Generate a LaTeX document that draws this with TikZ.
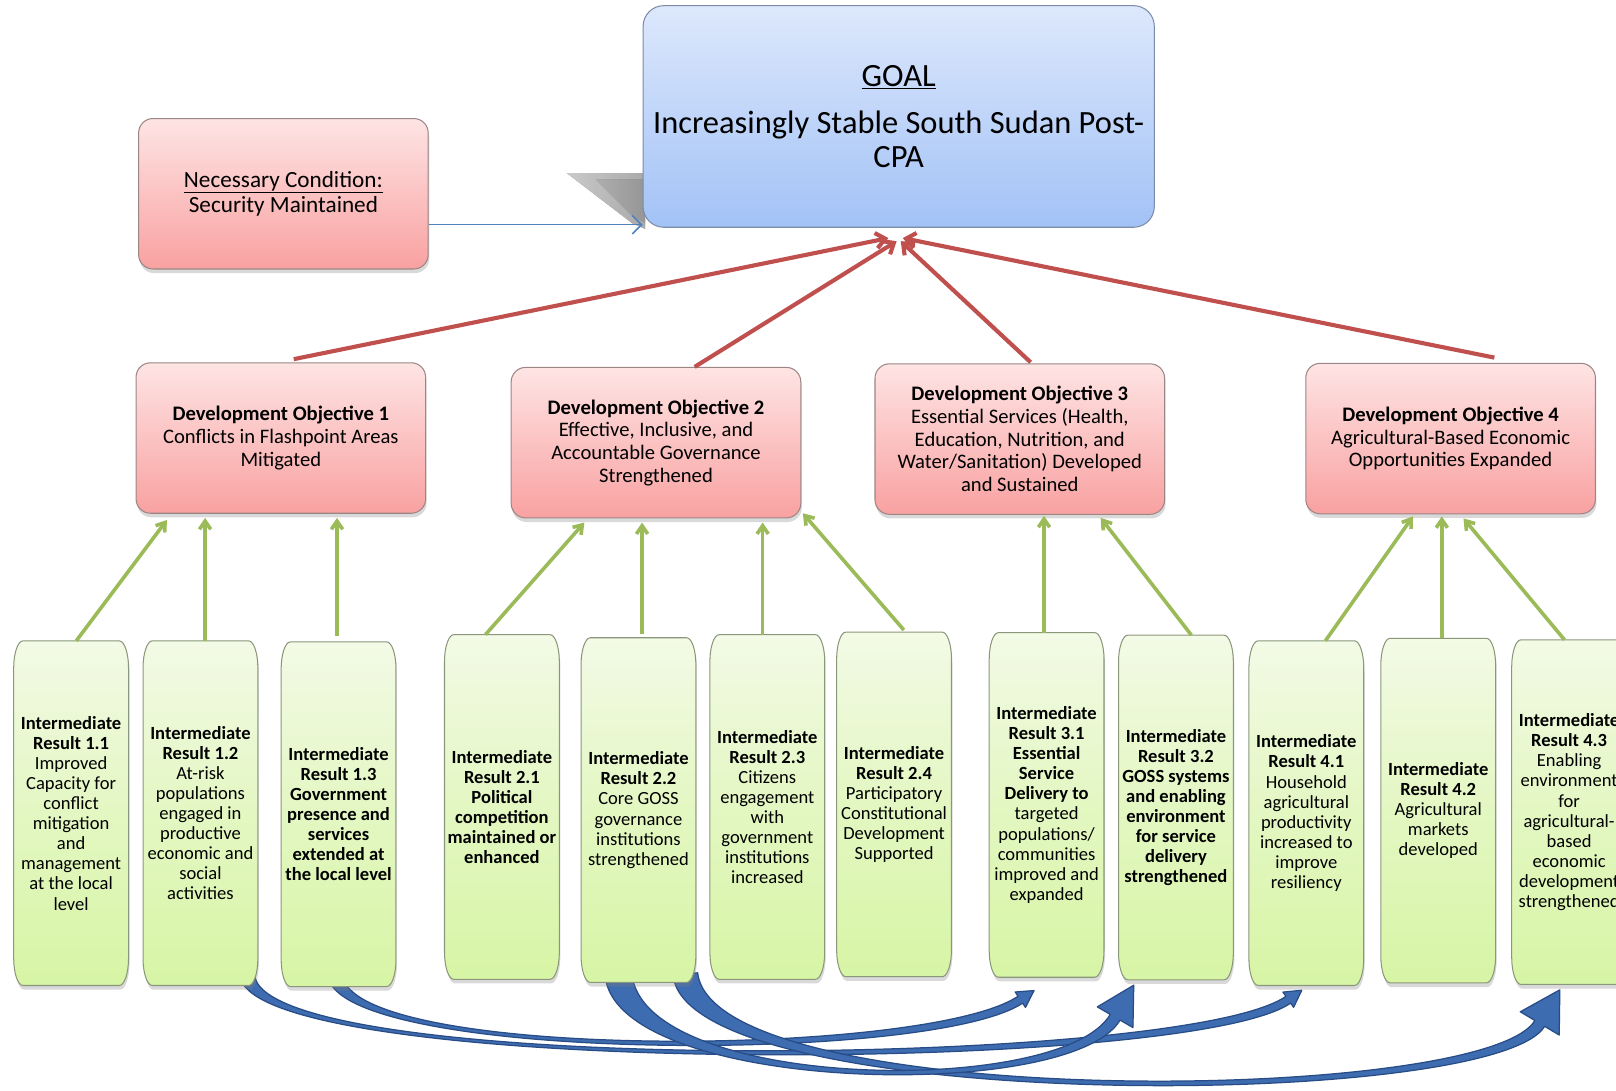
\documentclass[tikz,border=0pt]{standalone}
\usepackage{fontspec}
\setmainfont{Carlito}
\usetikzlibrary{calc,shadows,arrows.meta}
\pgfdeclarelayer{bg}
\pgfsetlayers{bg,main}
\definecolor{goaltop}{HTML}{DDE8FC}
\definecolor{goalbot}{HTML}{A2C2F6}
\definecolor{goalline}{HTML}{7B8BA8}
\definecolor{pinktop}{HTML}{FEE4E4}
\definecolor{pinkbot}{HTML}{F9A1A1}
\definecolor{pinkline}{HTML}{9C8585}
\definecolor{irtop}{HTML}{F3FAE6}
\definecolor{irmid}{HTML}{E3F7C2}
\definecolor{irbot}{HTML}{D7F5A5}
\definecolor{irline}{HTML}{8A977A}
\definecolor{redln}{HTML}{C0504D}
\definecolor{grnln}{HTML}{9BBB59}
\definecolor{bluln}{HTML}{4F81BD}
\definecolor{arrfill}{HTML}{3E6CB0}
\definecolor{arrline}{HTML}{284C85}
\newcommand{\bluearrow}[8]{%
  \path[bluearr]
   ($(#1)!#5!90:(#2)$)
   .. controls ($(#2)!#5!-90:(#1)$) and ($(#3)!#6!90:(#4)$) .. ($(#4)!#6!-90:(#3)$)
   -- ($(#4)!#8!-90:(#3)$) -- ($(#4)!-#7!(#3)$) -- ($(#4)!#8!90:(#3)$)
   -- ($(#4)!#6!90:(#3)$)
   .. controls ($(#3)!#6!-90:(#4)$) and ($(#2)!#5!90:(#1)$) .. ($(#1)!#5!-90:(#2)$)
   -- cycle;}
\tikzset{
  goalbox/.style={draw=goalline, line width=1pt, rounded corners=20pt, top color=goaltop, bottom color=goalbot,
    minimum width=496pt, minimum height=215pt, align=center, inner sep=0pt, font=\fontsize{31.5}{33}\selectfont},
  pinkbox/.style={draw=pinkline, line width=1pt, rounded corners=14pt, top color=pinktop, bottom color=pinkbot,
    minimum width=281pt, minimum height=146pt, align=center, inner sep=0pt,
    drop shadow={shadow xshift=1pt, shadow yshift=-4pt, opacity=0.3}},
  dotext/.style={font=\fontsize{20}{22}\selectfont},
  nctext/.style={font=\fontsize{22.5}{24.5}\selectfont},
  irtext/.style={minimum width=111pt, minimum height=334pt, inner sep=0pt, align=center,
    font=\fontsize{18}{19.5}\selectfont},
  irshape/.style={draw=irline, line width=1pt, top color=irtop, bottom color=irbot, middle color=irmid,
    drop shadow={shadow xshift=1pt, shadow yshift=-4pt, opacity=0.3}},
  redarr/.style={draw=redln, line width=4pt, -{Straight Barb[length=9pt,width=15pt]}},
  grnarr/.style={draw=grnln, line width=3.5pt, -{Straight Barb[length=8pt,width=11pt]}},
  bluthin/.style={draw=bluln, line width=1.5pt, -{Straight Barb[length=9pt,width=18pt]}},
  bluearr/.style={fill=arrfill, draw=arrline, line width=1.2pt, line join=round},
}
\begin{document}
\begin{tikzpicture}[x=1pt,y=-1pt]
\useasboundingbox (0,0) rectangle (1568,1058);

% top level
\node[goalbox] (goal) at (872,113) {\underline{GOAL}\\[12pt]Increasingly Stable South Sudan Post-\\CPA};
\node[pinkbox, nctext] (nc) at (275,188) {\underline{Necessary Condition:}\\Security Maintained};

% development objectives
\node[pinkbox, dotext] (do1) at (272.5,425) {\textbf{Development Objective 1}\\Conflicts in Flashpoint Areas\\Mitigated};
\node[pinkbox, dotext] (do2) at (636.5,429.5) {\textbf{Development Objective 2}\\Effective, Inclusive, and\\Accountable Governance\\Strengthened};
\node[pinkbox, dotext] (do3) at (989.5,426) {\textbf{Development Objective 3}\\Essential Services (Health,\\Education, Nutrition, and\\Water/Sanitation) Developed\\and Sustained};
\node[pinkbox, dotext] (do4) at (1407.5,425.5) {\textbf{Development Objective 4}\\Agricultural-Based Economic\\Opportunities Expanded};

% intermediate results
\node[irtext] (ir11) at (69,789) {\textbf{Intermediate}\\\textbf{Result 1.1}\\Improved\\Capacity for\\conflict\\mitigation\\and\\management\\at the local\\level};
\node[irtext] (ir12) at (194.5,789) {\textbf{Intermediate}\\\textbf{Result 1.2}\\At-risk\\populations\\engaged in\\productive\\economic and\\social\\activities};
\node[irtext] (ir13) at (328.5,790) {\textbf{Intermediate}\\\textbf{Result 1.3}\\\textbf{Government}\\\textbf{presence and}\\\textbf{services}\\\textbf{extended at}\\\textbf{the local level}};
\node[irtext] (ir21) at (487,783) {\textbf{Intermediate}\\\textbf{Result 2.1}\\\textbf{Political}\\\textbf{competition}\\\textbf{maintained or}\\\textbf{enhanced}};
\node[irtext] (ir22) at (619.5,786) {\textbf{Intermediate}\\\textbf{Result 2.2}\\Core GOSS\\governance\\institutions\\strengthened};
\node[irtext] (ir23) at (744.5,783) {\textbf{Intermediate}\\\textbf{Result 2.3}\\Citizens\\engagement\\with\\government\\institutions\\increased};
\node[irtext] (ir24) at (867.5,780.5) {\textbf{Intermediate}\\\textbf{Result 2.4}\\Participatory\\Constitutional\\Development\\Supported};
\node[irtext] (ir31) at (1015.5,781) {\textbf{Intermediate}\\\textbf{Result 3.1}\\\textbf{Essential}\\\textbf{Service}\\\textbf{Delivery to}\\targeted\\populations/\\communities\\improved and\\expanded};
\node[irtext] (ir32) at (1141,783.5) {\textbf{Intermediate}\\\textbf{Result 3.2}\\\textbf{GOSS systems}\\\textbf{and enabling}\\\textbf{environment}\\\textbf{for service}\\\textbf{delivery}\\\textbf{strengthened}};
\node[irtext] (ir41) at (1267.5,789) {\textbf{Intermediate}\\\textbf{Result 4.1}\\Household\\agricultural\\productivity\\increased to\\improve\\resiliency};
\node[irtext] (ir42) at (1395.5,786.5) {\textbf{Intermediate}\\\textbf{Result 4.2}\\Agricultural\\markets\\developed};
\node[irtext] (ir43) at (1522.5,788) {\textbf{Intermediate}\\\textbf{Result 4.3}\\Enabling\\environment\\for\\agricultural-\\based\\economic\\development\\strengthened};

% curved links between results
\coordinate (a0) at ([xshift=-3.5pt,yshift=12pt]ir13.south);
\coordinate (a1) at (330,1030);
\coordinate (a2) at (900,1030);
\coordinate (a3) at (990,970);
\coordinate (b0) at ([xshift=45.5pt,yshift=10.5pt]ir12.south);
\coordinate (b1) at (245,1045);
\coordinate (b2) at (1150,1040);
\coordinate (b3) at (1250,970);
\coordinate (c0) at ([xshift=-19.5pt,yshift=8pt]ir22.south);
\coordinate (c1) at (610,1060);
\coordinate (c2) at (1035,1068);
\coordinate (c3) at (1082,987);
\coordinate (d0) at ([xshift=45.5pt,yshift=8pt]ir22.south);
\coordinate (d1) at (680,1080);
\coordinate (d2) at (1445,1075);
\coordinate (d3) at (1494,993);

\begin{pgfonlayer}{bg}
  \fill[left color=white, right color=black!18, opacity=0.7] (550,168) -- (626,168) -- (626,222) -- (614,217) -- cycle;
  \fill[left color=white, right color=black!15, opacity=0.5] (578,174) -- (626,174) -- (626,216) -- (614,210) -- cycle;
  \bluearrow{b0}{b1}{b2}{b3}{7pt}{4pt}{16pt}{9pt}
  \bluearrow{a0}{a1}{a2}{a3}{7pt}{4pt}{16pt}{9pt}
  \bluearrow{d0}{d1}{d2}{d3}{12pt}{5.5pt}{38pt}{22pt}
  \bluearrow{c0}{c1}{c2}{c3}{13pt}{5.5pt}{36pt}{20pt}
  \foreach \n in {ir11,ir12,ir13,ir21,ir22,ir23,ir24,ir31,ir32,ir41,ir42,ir43}{
    \path[irshape] ([xshift=9pt]\n.north west) -- ([xshift=-9pt]\n.north east)
      .. controls ([xshift=-4pt]\n.north east) and ([yshift=-12pt]\n.north east) .. ([yshift=-26pt]\n.north east)
      -- ([yshift=26pt]\n.south east)
      .. controls ([yshift=12pt]\n.south east) and ([xshift=-4pt]\n.south east) .. ([xshift=-9pt]\n.south east)
      -- ([xshift=9pt]\n.south west)
      .. controls ([xshift=4pt]\n.south west) and ([yshift=12pt]\n.south west) .. ([yshift=26pt]\n.south west)
      -- ([yshift=-26pt]\n.north west)
      .. controls ([yshift=-12pt]\n.north west) and ([xshift=4pt]\n.north west) .. ([xshift=9pt]\n.north west)
      -- cycle;
  }
\end{pgfonlayer}

% necessary condition -> goal
\coordinate (ncA) at ([yshift=-30pt]nc.east);
\draw[bluthin] (ncA) -- (ncA -| goal.west);

% objectives -> goal
\draw[redarr] ([xshift=12.5pt,yshift=3pt]do1.north) -- ([xshift=-10pt,yshift=-10pt]goal.south);
\draw[redarr] ([xshift=37.5pt]do2.north) -- ([xshift=-2pt,yshift=-13pt]goal.south);
\draw[redarr] ([xshift=10.5pt,yshift=1pt]do3.north) -- ([xshift=2pt,yshift=-13pt]goal.south);
\draw[redarr] ([xshift=42.5pt,yshift=5pt]do4.north) -- ([xshift=4pt,yshift=-10pt]goal.south);

% results -> objectives
\draw[grnarr] ([xshift=5pt]ir11.north) -- ([xshift=-110.5pt,yshift=-6pt]do1.south);
\draw[grnarr] ([xshift=4.5pt]ir12.north) -- ([xshift=-73.5pt,yshift=-4pt]do1.south);
\draw[grnarr] ([xshift=-1.5pt,yshift=6pt]ir13.north) -- ([xshift=54.5pt,yshift=-4pt]do1.south);
\draw[grnarr] ([xshift=-16pt]ir21.north) -- ([xshift=-69.5pt,yshift=-4pt]do2.south);
\draw[grnarr] ([xshift=3.5pt,yshift=4pt]ir22.north) -- ([xshift=-13.5pt,yshift=-4pt]do2.south);
\draw[grnarr] ([xshift=-4.5pt]ir23.north) -- ([xshift=103.5pt,yshift=-4pt]do2.south);
\draw[grnarr] ([xshift=9.5pt,yshift=2pt]ir24.north) -- ([xshift=142.5pt,yshift=5pt]do2.south);
\draw[grnarr] ([xshift=-2.5pt]ir31.north) -- ([xshift=23.5pt,yshift=-1pt]do3.south);
\draw[grnarr] ([xshift=15pt]ir32.north) -- ([xshift=78.5pt,yshift=-3pt]do3.south);
\draw[grnarr] ([xshift=18.5pt]ir41.north) -- ([xshift=-36.5pt,yshift=-2pt]do4.south);
\draw[grnarr] ([xshift=3.5pt]ir42.north) -- ([xshift=-8.5pt,yshift=-2pt]do4.south);
\draw[grnarr] ([xshift=-4.5pt]ir43.north) -- ([xshift=12.5pt,yshift=-4pt]do4.south);
\end{tikzpicture}
\end{document}
